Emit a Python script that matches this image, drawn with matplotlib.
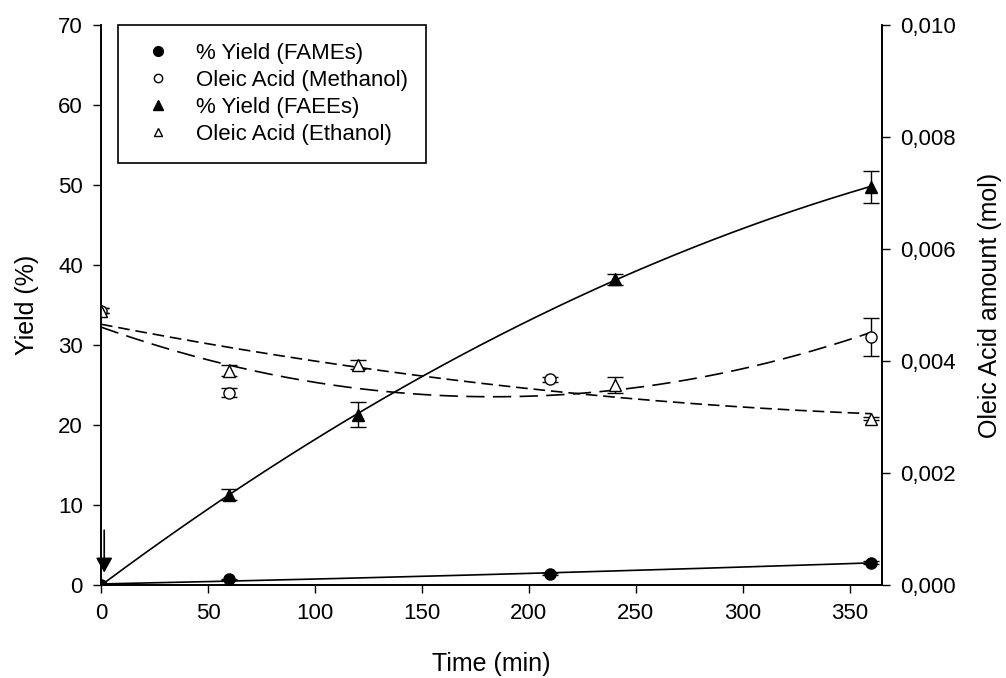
import numpy as np
import matplotlib.pyplot as plt
from matplotlib.lines import Line2D

plt.rcParams['font.family'] = ['Liberation Sans', 'DejaVu Sans']

# time points (min)
t_fame = [0, 60, 210, 360]
yield_fame = [0.0, 0.7, 1.4, 2.8]
yield_fame_err = [0.0, 0.1, 0.1, 0.2]

t_faee = [0, 60, 120, 240, 360]
yield_faee = [0.0, 11.3, 21.3, 38.2, 49.8]
yield_faee_err = [0.0, 0.7, 1.6, 0.7, 2.0]

# oleic acid amount (mol), right axis
t_meoh = [0, 60, 210, 360]
oleic_meoh = [0.0049, 0.00343, 0.00367, 0.00443]
oleic_meoh_err = [0.00004, 0.00008, 0.00005, 0.00034]

t_etoh = [0, 60, 120, 240, 360]
oleic_etoh = [0.0049, 0.00383, 0.00393, 0.00357, 0.00297]
oleic_etoh_err = [0.00004, 0.00009, 0.00008, 0.00014, 0.00003]

labels = ['% Yield (FAMEs)', 'Oleic Acid (Methanol)', '% Yield (FAEEs)',
          'Oleic Acid (Ethanol)']

x_ticks = [0, 50, 100, 150, 200, 250, 300, 350]
y_ticks = [0, 10, 20, 30, 40, 50, 60, 70]
y2_ticks = [0.0, 0.002, 0.004, 0.006, 0.008, 0.010]

fig = plt.figure(figsize=(10.06, 6.78), dpi=100)
ax = fig.add_axes([0.1004, 0.1372, 0.7763, 0.8259])
ax2 = ax.twinx()

xs = np.linspace(0, 360, 200)

# fitted curves
p = np.polyfit(t_fame, yield_fame, 2)
ax.plot(xs, np.polyval(p, xs), color='black', lw=1.2)
p = np.polyfit(t_faee, yield_faee, 2)
ax.plot(xs, np.polyval(p, xs), color='black', lw=1.2)
p = np.polyfit(t_meoh, oleic_meoh, 2)
ax2.plot(xs, np.polyval(p, xs), color='black', lw=1.2, dashes=(11, 5))
p = np.polyfit(t_etoh, oleic_etoh, 2)
ax2.plot(xs, np.polyval(p, xs), color='black', lw=1.2, dashes=(7, 3.5))

eb = dict(color='black', elinewidth=1, capsize=6, capthick=1, linestyle='none')
ax.errorbar(t_fame, yield_fame, yerr=yield_fame_err, marker='o', ms=8,
            mfc='black', mec='black', **eb)
ax.errorbar(t_faee, yield_faee, yerr=yield_faee_err, marker='^', ms=8,
            mfc='black', mec='black', **eb)
ax2.errorbar(t_meoh, oleic_meoh, yerr=oleic_meoh_err, marker='o', ms=8,
             mfc='white', mec='black', **eb)
ax2.errorbar(t_etoh, oleic_etoh, yerr=oleic_etoh_err, marker='^', ms=8,
             mfc='white', mec='black', **eb)

# arrow at t = 0
ax.annotate('', xy=(1.5, 1.2), xytext=(1.5, 7.2),
            arrowprops=dict(arrowstyle='-|>,head_width=0.5,head_length=0.9',
                            color='black', lw=1.2))

ax.set_xlim(0, 365)
ax.set_ylim(0, 70)
ax2.set_ylim(0, 0.010)
ax.set_xticks(x_ticks)
ax.set_yticks(y_ticks)
ax2.set_yticks(y2_ticks)
ax2.set_yticklabels([f'{v:.3f}'.replace('.', ',') for v in y2_ticks])

for a in (ax, ax2):
    a.spines['top'].set_visible(False)
    a.tick_params(direction='out', labelsize=16, length=6, width=1, pad=7)
    for s in a.spines.values():
        s.set_linewidth(1.2)

ax.set_xlabel('Time (min)', fontsize=18, labelpad=20)
ax.set_ylabel('Yield (%)', fontsize=18, labelpad=14)
ax2.set_ylabel('Oleic Acid amount (mol)', fontsize=18, labelpad=16)

handles = [
    Line2D([], [], ls='none', marker='o', ms=7, mfc='black', mec='black'),
    Line2D([], [], ls='none', marker='o', ms=6, mfc='white', mec='black'),
    Line2D([], [], ls='none', marker='^', ms=7, mfc='black', mec='black'),
    Line2D([], [], ls='none', marker='^', ms=6, mfc='white', mec='black'),
]
leg = ax.legend(handles, labels, loc='upper left', bbox_to_anchor=(0.022, 1.0),
                borderaxespad=0, fontsize=16, fancybox=False,
                edgecolor='black', framealpha=1, handletextpad=0.71,
                borderpad=0.8, labelspacing=0.27, handlelength=2.0)
leg.get_frame().set_linewidth(1.2)
leg.set_zorder(5)

fig.savefig('out.png', dpi=100)
